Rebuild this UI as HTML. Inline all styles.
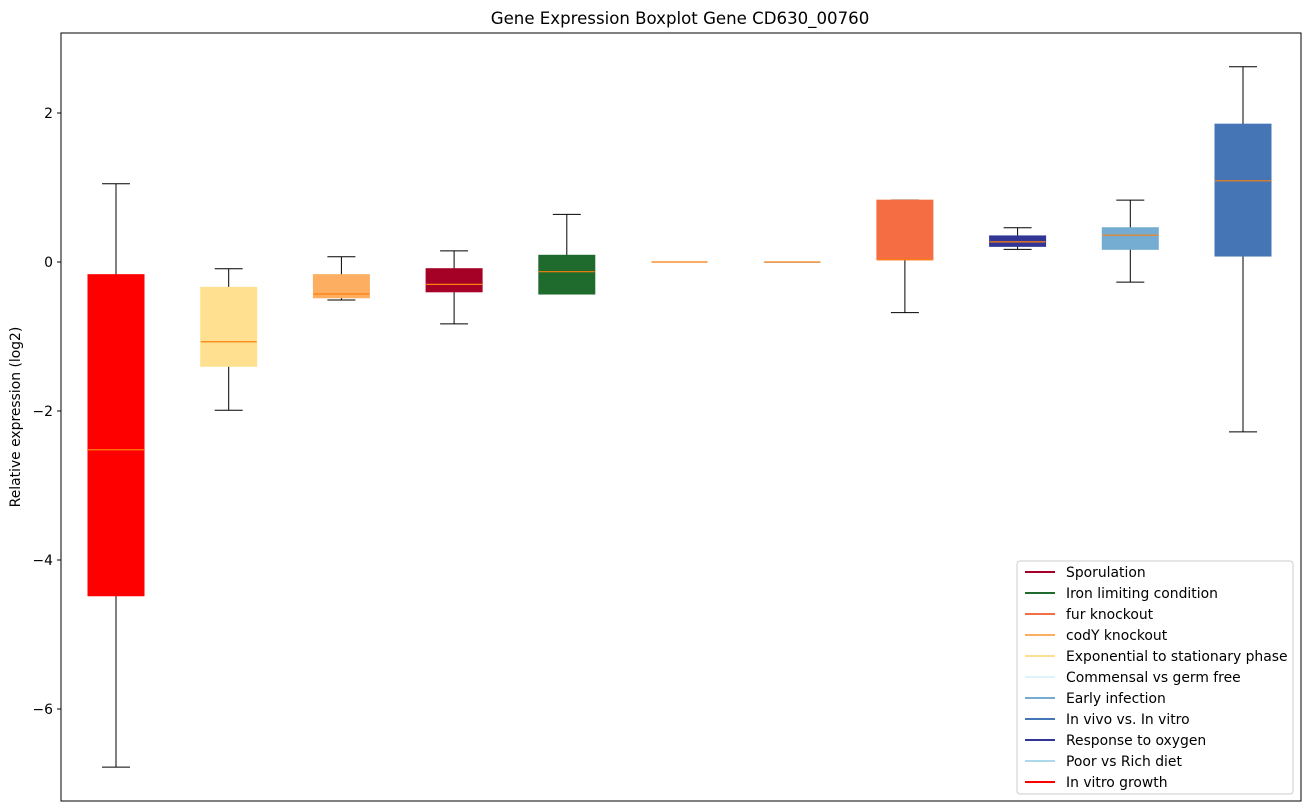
<!DOCTYPE html>
<html><head><meta charset="utf-8"><style>
body{margin:0;background:#fff;}
svg{display:block;font-family:"DejaVu Sans","Liberation Sans",sans-serif;}
</style></head><body>
<svg id="chart" width="1309" height="812">
<rect x="0" y="0" width="1309" height="812" fill="#fff"/>
<text x="680" y="24" text-anchor="middle" font-size="16.6">Gene Expression Boxplot Gene CD630_00760</text>
<text transform="translate(20,417) rotate(-90)" text-anchor="middle" font-size="13.9">Relative expression (log2)</text>
<g id="marks"></g>
<rect x="61" y="33" width="1240" height="768" fill="none" stroke="#000" stroke-width="1"/>
<g id="legend"></g>
</svg>
<script>
const categories=["In vitro growth","Exponential to stationary phase","codY knockout","Sporulation","Iron limiting condition","Commensal vs germ free","Poor vs Rich diet","fur knockout","Response to oxygen","Early infection","In vivo vs. In vitro"];
const boxColors=["#ff0000","#fee090","#fdae61","#a50026","#1f6b2d","#e0f3f8","#abd9e9","#f46d43","#313695","#74add1","#4575b4"];
const whiskerHigh=[1.05,-0.09,0.07,0.15,0.64,0,0,0.83,0.46,0.83,2.62];
const q3=[-0.17,-0.34,-0.17,-0.09,0.09,0,0,0.83,0.35,0.46,1.85];
const medians=[-2.52,-1.07,-0.43,-0.30,-0.13,0,0,0.03,0.27,0.36,1.09];
const q1=[-4.48,-1.40,-0.48,-0.40,-0.43,0,0,0.03,0.21,0.17,0.08];
const whiskerLow=[-6.78,-1.99,-0.51,-0.83,-0.43,0,0,-0.68,0.17,-0.27,-2.28];
const yTicks=[2,0,-2,-4,-6];
const yTickLabels=["2","0","\u22122","\u22124","\u22126"];
const legendLabels=["Sporulation","Iron limiting condition","fur knockout","codY knockout","Exponential to stationary phase","Commensal vs germ free","Early infection","In vivo vs. In vitro","Response to oxygen","Poor vs Rich diet","In vitro growth"];
const legendColors=["#a50026","#1f6b2d","#f46d43","#fdae61","#fee090","#e0f3f8","#74add1","#4575b4","#313695","#abd9e9","#ff0000"];

const NS="http://www.w3.org/2000/svg";
const y=v=>262-v*74.5;
const x=i=>116+i*112.7;
function mk(tag,attrs,parent){const e=document.createElementNS(NS,tag);for(const k in attrs)e.setAttribute(k,attrs[k]);parent.appendChild(e);return e;}
const svg=document.getElementById('chart');
const marks=document.getElementById('marks');
yTicks.forEach((t,i)=>{
  const l=mk('line',{x1:57,x2:61,y1:y(t),y2:y(t),stroke:'#000'},svg);
  
  
  const tx=mk('text',{x:53,y:y(t)+5,'text-anchor':'end','font-size':13.9},svg);
  tx.textContent=yTickLabels[i];
  
  
});
categories.forEach((c,i)=>{
  const g=mk('g',{},marks);
  
  
  const cx=x(i),w=56;
  mk('line',{x1:cx,x2:cx,y1:y(q3[i]),y2:y(whiskerHigh[i]),stroke:'#000'},g);
  mk('line',{x1:cx,x2:cx,y1:y(q1[i]),y2:y(whiskerLow[i]),stroke:'#000'},g);
  mk('line',{x1:cx-14,x2:cx+14,y1:y(whiskerHigh[i]),y2:y(whiskerHigh[i]),stroke:'#000'},g);
  mk('line',{x1:cx-14,x2:cx+14,y1:y(whiskerLow[i]),y2:y(whiskerLow[i]),stroke:'#000'},g);
  const top=y(q3[i]),bot=y(q1[i]);
  mk('rect',{x:cx-w/2,y:top,width:w,height:Math.max(bot-top,0.5),fill:boxColors[i],stroke:boxColors[i]},g);
  mk('line',{x1:cx-w/2,x2:cx+w/2,y1:y(medians[i]),y2:y(medians[i]),stroke:'#ff7f0e','stroke-width':1.2},g);
});
const lg=document.getElementById('legend');
const box=mk('rect',{x:1017,y:561,width:276,height:233,rx:3,fill:'#fff','fill-opacity':0.8,stroke:'#ccc'},lg);


legendLabels.forEach((l,i)=>{
  const yy=572+i*21;
  const g=mk('g',{},lg);
  
  
  mk('line',{x1:1025,x2:1055,y1:yy,y2:yy,stroke:legendColors[i],'stroke-width':2},g);
  const t=mk('text',{x:1066,y:yy+5,'font-size':13.9},g);
  t.textContent=l;
});
</script>
</body></html>
